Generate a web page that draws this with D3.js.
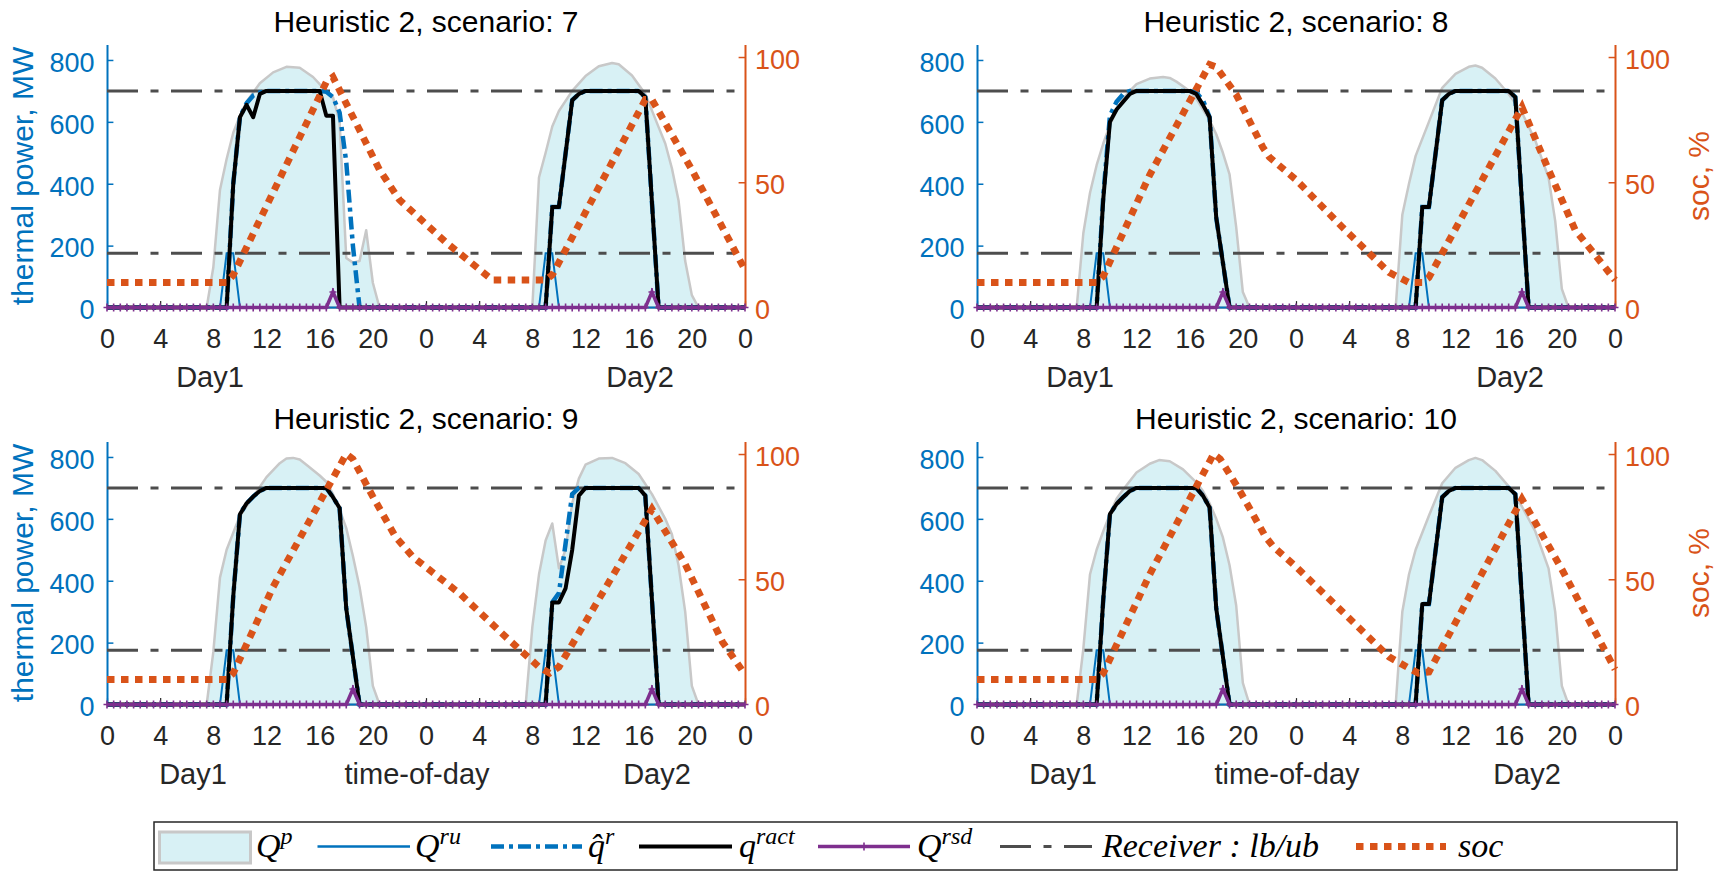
<!DOCTYPE html>
<html><head><meta charset="utf-8">
<script src="https://cdn.jsdelivr.net/npm/d3@7"></script>
<style>body{margin:0;background:#fff}svg{display:block}</style>
</head><body>
<svg id="c" width="1722" height="872"></svg>
<script>
// ---------------- DATA ----------------
const scenarios = [7, 8, 9, 10];
const xTickValues = [0,4,8,12,16,20,24,28,32,36,40,44,48];
const xTickLabels = ["0","4","8","12","16","20","0","4","8","12","16","20","0"];
const yTickValues = [0,200,400,600,800];
const socTickValues = [0,50,100];
const receiverBounds = [175, 700];
const halfHours = d3.range(0, 48.25, 0.5);

// Q^p (available thermal power) [hour, MW]
const qp7 = [[0,0],[7.5,0],[8,130],[8.5,380],[9,480],[9.5,565],[10,620],[10.5,665],[11.5,725],[12.5,760],[13.5,778],[14.5,775],[15.5,745],[16,722],[16.5,700],[17,680],[17.5,600],[18,160],[18.5,145],[19,150],[19.5,250],[20,80],[20.5,0],
  [32,0],[32.5,420],[33,500],[33.5,585],[34,635],[35,700],[36,748],[37,780],[38,790],[38.5,786],[39.5,750],[40.5,690],[41.5,583],[42,530],[42.5,450],[43,346],[43.5,150],[44,40],[44.5,0],[48,0]];
const qp8 = [[0,0],[7.5,0],[8,240],[8.5,370],[9,460],[9.5,530],[10,590],[10.5,635],[11,675],[11.5,700],[12,722],[13,740],[14,745],[14.5,742],[15,730],[16,700],[16.5,675],[17,640],[17.5,605],[18,560],[18.5,500],[19,430],[19.5,260],[20,50],[20.5,0],
  [31.5,0],[32,300],[32.5,400],[33,490],[34,600],[35,710],[36,755],[37,778],[37.5,782],[38,775],[39,740],[40,690],[41,630],[42,540],[43,420],[43.5,280],[44,60],[44.5,0],[48,0]];
const qp9 = [[0,0],[7.5,0],[8,170],[8.5,410],[9,500],[9.5,555],[10,610],[11,672],[12,735],[13,780],[13.5,795],[14,797],[14.5,792],[15,775],[16,740],[16.5,720],[17,680],[17.5,630],[18,570],[18.5,480],[19,380],[19.5,250],[20,60],[20.5,0],
  [31.5,0],[32,250],[32.5,420],[33,530],[33.5,585],[34,440],[34.5,500],[35,650],[35.5,730],[36,775],[37,795],[38,797],[39,780],[40,745],[41,680],[42,600],[42.5,550],[43,450],[43.5,300],[44,60],[44.5,0],[48,0]];
const qp10 = [[0,0],[7.5,0],[8,180],[8.5,420],[9,500],[9.5,560],[10,615],[10.5,665],[11,695],[12,750],[13,778],[13.7,790],[14.5,786],[15.5,760],[16.5,718],[17,690],[17.5,650],[18,600],[18.5,540],[19,450],[19.5,320],[20,70],[20.5,0],
  [31.5,0],[32,300],[32.5,420],[33,500],[34,610],[35,715],[36,765],[37,790],[37.5,797],[38,790],[39,755],[40,705],[41,640],[42,560],[43,440],[43.5,300],[44,60],[44.5,0],[48,0]];

// Q^ru [hour, MW]
const qru7 = [[0,0],[8.5,0],[9,175],[9.5,175],[10,0],[32.5,0],[33,175],[33.5,175],[34,0],[48,0]];
const qru8 = [[0,0],[8.5,0],[9,175],[9.5,175],[10,0],[32.5,0],[33,175],[33.5,175],[34,0],[48,0]];
const qru9 = [[0,0],[8.5,0],[9,175],[9.5,175],[10,0],[32.5,0],[33,175],[33.5,175],[34,0],[48,0]];
const qru10 = [[0,0],[8.5,0],[9,175],[9.5,175],[10,0],[32.5,0],[33,175],[33.5,175],[34,0],[48,0]];

// q-hat^r [hour, MW]
const qhat7 = [[0,0],[9,0],[9.5,400],[10,615],[10.5,660],[11,685],[11.5,695],[12,700],[16,700],[16.5,697],[17,680],[17.5,630],[18,470],[18.5,200],[19,0],
  [33,0],[33.5,325],[34,325],[35,670],[35.5,690],[36,700],[40,700],[40.5,680],[41.5,0],[48,0]];
const qhat8 = [[0,0],[9,0],[9.5,360],[10,620],[10.5,665],[11,690],[11.5,700],[12,700],[16,700],[16.5,695],[17,670],[17.5,615],[18,290],[19,0],
  [33,0],[33.5,325],[34,325],[35,670],[35.5,690],[36,700],[40,700],[40.5,680],[41.5,0],[48,0]];
const qhat9 = [[0,0],[9,0],[9.5,350],[10,615],[10.5,650],[11,672],[11.5,690],[12,700],[16.5,700],[17,670],[17.5,635],[18,310],[19,0],
  [33,0],[33.5,330],[34,360],[34.5,520],[35,680],[35.5,700],[36,700],[40,700],[40.5,675],[41.5,0],[48,0]];
const qhat10 = [[0,0],[9,0],[9.5,340],[10,615],[10.5,648],[11,670],[11.5,690],[12,700],[16.5,700],[17,675],[17.5,637],[18,310],[19,0],
  [33,0],[33.5,325],[34,325],[35,670],[35.5,690],[36,700],[40,700],[40.5,680],[41.5,0],[48,0]];

// q^ract [hour, MW]
const qract7 = [[0,0],[9,0],[9.5,400],[10,615],[10.5,655],[11,615],[11.5,690],[12,700],[16,700],[16.5,620],[17,620],[17.5,0],
  [33,0],[33.5,325],[34,325],[35,670],[35.5,690],[36,700],[40,700],[40.5,680],[41.5,0],[48,0]];
const qract8 = [[0,0],[9,0],[9.5,350],[10,600],[10.5,640],[11,665],[11.5,690],[12,700],[16,700],[16.5,690],[17,655],[17.5,615],[18,290],[19,0],
  [33,0],[33.5,325],[34,325],[35,670],[35.5,690],[36,700],[40,700],[40.5,680],[41.5,0],[48,0]];
const qract9 = [[0,0],[9,0],[9.5,350],[10,615],[10.5,650],[11,672],[11.5,690],[12,700],[16.5,700],[17,670],[17.5,635],[18,310],[19,0],
  [33,0],[33.5,330],[34,330],[34.5,375],[35,500],[35.5,675],[36,700],[40,700],[40.5,675],[41.5,0],[48,0]];
const qract10 = [[0,0],[9,0],[9.5,340],[10,615],[10.5,648],[11,670],[11.5,690],[12,700],[16.5,700],[17,675],[17.5,637],[18,310],[19,0],
  [33,0],[33.5,325],[34,325],[35,670],[35.5,690],[36,700],[40,700],[40.5,680],[41.5,0],[48,0]];

// Q^rsd, one value per half hour (0 ... 48 h)
const qrsd7 = [0,0,0,0,0,0,0,0,0,0, 0,0,0,0,0,0,0,0,0,0, 0,0,0,0,0,0,0,0,0,0, 0,0,0,0,50,0,0,0,0,0,
  0,0,0,0,0,0,0,0,0,0, 0,0,0,0,0,0,0,0,0,0, 0,0,0,0,0,0,0,0,0,0, 0,0,0,0,0,0,0,0,0,0,
  0,0,50,0,0,0,0,0,0,0, 0,0,0,0,0,0,0];
const qrsd8 = [0,0,0,0,0,0,0,0,0,0, 0,0,0,0,0,0,0,0,0,0, 0,0,0,0,0,0,0,0,0,0, 0,0,0,0,0,0,0,50,0,0,
  0,0,0,0,0,0,0,0,0,0, 0,0,0,0,0,0,0,0,0,0, 0,0,0,0,0,0,0,0,0,0, 0,0,0,0,0,0,0,0,0,0,
  0,0,50,0,0,0,0,0,0,0, 0,0,0,0,0,0,0];
const qrsd9 = [0,0,0,0,0,0,0,0,0,0, 0,0,0,0,0,0,0,0,0,0, 0,0,0,0,0,0,0,0,0,0, 0,0,0,0,0,0,0,50,0,0,
  0,0,0,0,0,0,0,0,0,0, 0,0,0,0,0,0,0,0,0,0, 0,0,0,0,0,0,0,0,0,0, 0,0,0,0,0,0,0,0,0,0,
  0,0,50,0,0,0,0,0,0,0, 0,0,0,0,0,0,0];
const qrsd10 = [0,0,0,0,0,0,0,0,0,0, 0,0,0,0,0,0,0,0,0,0, 0,0,0,0,0,0,0,0,0,0, 0,0,0,0,0,0,0,50,0,0,
  0,0,0,0,0,0,0,0,0,0, 0,0,0,0,0,0,0,0,0,0, 0,0,0,0,0,0,0,0,0,0, 0,0,0,0,0,0,0,0,0,0,
  0,0,50,0,0,0,0,0,0,0, 0,0,0,0,0,0,0];

// soc [hour, %]
const soc7 = [[0,10],[9,10],[9.5,13],[16.5,90],[17,92],[20.5,55],[21,51],[22,43],[25.5,26],[29,11],[33,11],[33.5,13],[40.5,83],[41,83],[44,55],[48,15]];
const soc8 = [[0,10],[9,10],[9.5,12.5],[13,53],[17.5,97],[18,96],[19.5,85],[21.5,64],[22,60],[24,51],[27.5,32],[31,14],[32.5,10],[33.5,10],[34,12],[41,80],[43,55],[45,31],[48,11]];
const soc9 = [[0,10],[9,10],[9.5,12.5],[12.5,47],[18,100],[18.5,98],[20,83],[21.7,67],[23,59],[26.6,44],[30.2,26],[32.5,15],[33.3,12.5],[34,15],[41,78],[43.5,56],[46.3,25],[48,12]];
const soc10 = [[0,10],[9,10],[9.5,12.5],[13,52],[17.8,100],[18.3,98],[19.7,86],[21.7,67],[22.3,63],[24,55],[27.5,37],[31,19],[32.5,14.5],[33.2,12.5],[34,13],[41,82],[44,54],[48,14]];

// ---------------- LAYOUT ----------------
const svg = d3.select("#c");
const SANS = "'Liberation Sans', Arial, Helvetica, sans-serif";
const SERIF = "'Liberation Serif', 'Times New Roman', serif";
const COL = {blue:"#0072BD", orange:"#D95319", purple:"#7E2F8E", text:"#262626",
             fill:"#d8f1f5", edge:"#c8c8c8", recv:"#4d4d4d"};
const PW = 638;
const panels = [
  {scen:7,  qp:qp7,  qru:qru7,  qhat:qhat7,  qract:qract7,  qrsd:qrsd7,  soc:soc7,  left:107, top:44.5,  bottom:307.5, yl:true,  yr:false, row:0},
  {scen:8,  qp:qp8,  qru:qru8,  qhat:qhat8,  qract:qract8,  qrsd:qrsd8,  soc:soc8,  left:977, top:44.5,  bottom:307.5, yl:false, yr:true,  row:0},
  {scen:9,  qp:qp9,  qru:qru9,  qhat:qhat9,  qract:qract9,  qrsd:qrsd9,  soc:soc9,  left:107, top:441.5, bottom:704.5, yl:true,  yr:false, row:1},
  {scen:10, qp:qp10, qru:qru10, qhat:qhat10, qract:qract10, qrsd:qrsd10, soc:soc10, left:977, top:441.5, bottom:704.5, yl:false, yr:true,  row:1}
];
const xlabelSets = [
  [{t:"Day1", dx:-216}, {t:"Day2", dx:214}],
  [{t:"Day1", dx:-233}, {t:"time-of-day", dx:-9}, {t:"Day2", dx:231}]
];

function styleAxis(g, color, fs) {
  g.select(".domain").attr("stroke", color).attr("stroke-width", 2);
  g.selectAll(".tick line").attr("stroke", color).attr("stroke-width", 1.5);
  g.selectAll(".tick text").attr("fill", color).attr("font-family", SANS).attr("font-size", fs);
}

function drawPanel(p) {
  const x = d3.scaleLinear().domain([0, 48]).range([p.left, p.left + PW]);
  const y = d3.scaleLinear().domain([0, 850]).range([p.bottom, p.top]);
  const yr = d3.scaleLinear().domain([0, 105]).range([p.bottom, p.top]);
  const g = svg.append("g");
  const cx = p.left + PW / 2;

  const ax = g.append("g").attr("transform", `translate(0,${p.bottom})`)
    .call(d3.axisBottom(x).tickValues(xTickValues).tickFormat((d, i) => xTickLabels[i])
      .tickSizeInner(-6.4).tickSizeOuter(0).tickPadding(21.5));
  styleAxis(ax, COL.text, 27);
  ax.select(".domain").attr("stroke-width", 1.5);
  ax.selectAll(".tick line").attr("stroke-width", 1.2);

  const ay = g.append("g").attr("transform", `translate(${p.left},0)`)
    .call(d3.axisLeft(y).tickValues(yTickValues).tickSizeInner(-6.4).tickSizeOuter(0).tickPadding(12.5));
  styleAxis(ay, COL.blue, 27);
  ay.selectAll(".tick text").attr("dy", "0.42em");

  const ar = g.append("g").attr("transform", `translate(${p.left + PW},0)`)
    .call(d3.axisRight(yr).tickValues(socTickValues).tickSizeInner(-6.4).tickSizeOuter(0).tickPadding(10));
  styleAxis(ar, COL.orange, 27);
  ar.selectAll(".tick text").attr("dy", "0.42em");

  g.append("path").datum(p.qp)
    .attr("d", d3.area().x(d => x(d[0])).y0(y(0)).y1(d => y(d[1])))
    .attr("fill", COL.fill).attr("stroke", COL.edge).attr("stroke-width", 2.5).attr("stroke-linejoin", "round");

  g.selectAll(".rb").data(receiverBounds).join("line")
    .attr("x1", x(0)).attr("x2", x(48)).attr("y1", d => y(d)).attr("y2", d => y(d))
    .attr("stroke", COL.recv).attr("stroke-width", 3).attr("stroke-dasharray", "31,12.5,8,12.5");

  const line = d3.line().x(d => x(d[0])).y(d => y(d[1]));
  g.append("path").datum(p.qru).attr("d", line).attr("fill", "none")
    .attr("stroke", COL.blue).attr("stroke-width", 2);
  g.append("path").datum(p.qhat).attr("d", line).attr("fill", "none")
    .attr("stroke", COL.blue).attr("stroke-width", 4.5).attr("stroke-dasharray", "13,5,4,5");
  g.append("path").datum(p.qract).attr("d", line).attr("fill", "none")
    .attr("stroke", "#000").attr("stroke-width", 4).attr("stroke-linejoin", "round");
  const rsd = p.qrsd.map((v, i) => [halfHours[i], v]);
  g.append("path").datum(rsd).attr("d", line).attr("fill", "none")
    .attr("stroke", COL.purple).attr("stroke-width", 3.5);
  g.selectAll(".mk").data(rsd).join("path")
    .attr("transform", d => `translate(${x(d[0])},${y(d[1])})`)
    .attr("d", "M-3.5,0H3.5M0,-4V4").attr("stroke", COL.purple).attr("stroke-width", 1.6);

  g.append("path").datum(p.soc)
    .attr("d", d3.line().x(d => x(d[0])).y(d => yr(d[1])))
    .attr("fill", "none").attr("stroke", COL.orange).attr("stroke-width", 7)
    .attr("stroke-dasharray", "7.5,6.5");

  g.append("text").attr("x", cx).attr("y", p.bottom - 276).attr("text-anchor", "middle")
    .attr("font-family", SANS).attr("font-size", 30).attr("fill", "#000")
    .text(`Heuristic 2, scenario: ${p.scen}`);

  xlabelSets[p.row].forEach(l => {
    g.append("text").attr("x", cx + l.dx).attr("y", p.bottom + 79.5).attr("text-anchor", "middle")
      .attr("font-family", SANS).attr("font-size", 29).attr("fill", COL.text).text(l.t);
  });

  if (p.yl) {
    g.append("text").attr("transform", `translate(33,${(p.top + p.bottom) / 2}) rotate(-90)`)
      .attr("text-anchor", "middle").attr("font-family", SANS).attr("font-size", 30)
      .attr("fill", COL.blue).text("thermal power, MW");
  }
  if (p.yr) {
    g.append("text").attr("transform", `translate(1709,${(p.top + p.bottom) / 2}) rotate(-90)`)
      .attr("text-anchor", "middle").attr("font-family", SANS).attr("font-size", 30)
      .attr("fill", COL.orange).text("soc, %");
  }
}
panels.forEach(drawPanel);

// ---------------- LEGEND ----------------
const lg = svg.append("g");
lg.append("rect").attr("x", 154).attr("y", 822).attr("width", 1523).attr("height", 48)
  .attr("fill", "#fff").attr("stroke", COL.text).attr("stroke-width", 1.5);
const ly = 846.5, lb = 857;
lg.append("rect").attr("x", 159.5).attr("y", 832).attr("width", 91).attr("height", 31)
  .attr("fill", COL.fill).attr("stroke", COL.edge).attr("stroke-width", 3);
function ltext(x, base, sup) {
  const t = lg.append("text").attr("x", x).attr("y", lb).attr("font-family", SERIF)
    .attr("font-style", "italic").attr("font-size", 34).attr("fill", "#000");
  t.append("tspan").text(base);
  if (sup) t.append("tspan").attr("font-size", 24).attr("dy", -13).text(sup);
}
function lline(x1, x2, color, w, dash) {
  const l = lg.append("line").attr("x1", x1).attr("x2", x2).attr("y1", ly).attr("y2", ly)
    .attr("stroke", color).attr("stroke-width", w);
  if (dash) l.attr("stroke-dasharray", dash);
  return l;
}
ltext(256, "Q", "p");
lline(317.5, 410, COL.blue, 2.5);
ltext(415, "Q", "ru");
lline(491, 582, COL.blue, 4.5, "13,5,4,5");
ltext(588, "q\u0302", "r");
lline(639, 732, "#000", 4);
ltext(739, "q", "ract");
lline(818, 910, COL.purple, 3.5);
lg.append("path").attr("transform", `translate(864,${ly})`).attr("d", "M-3.5,0H3.5M0,-4V4")
  .attr("stroke", COL.purple).attr("stroke-width", 1.6);
ltext(917, "Q", "rsd");
lline(1000, 1092, COL.recv, 3, "31,12.5,8,12.5");
ltext(1102, "Receiver : lb/ub");
lline(1356, 1446, COL.orange, 7, "7.5,6.5");
ltext(1458, "soc");
</script></body></html>
